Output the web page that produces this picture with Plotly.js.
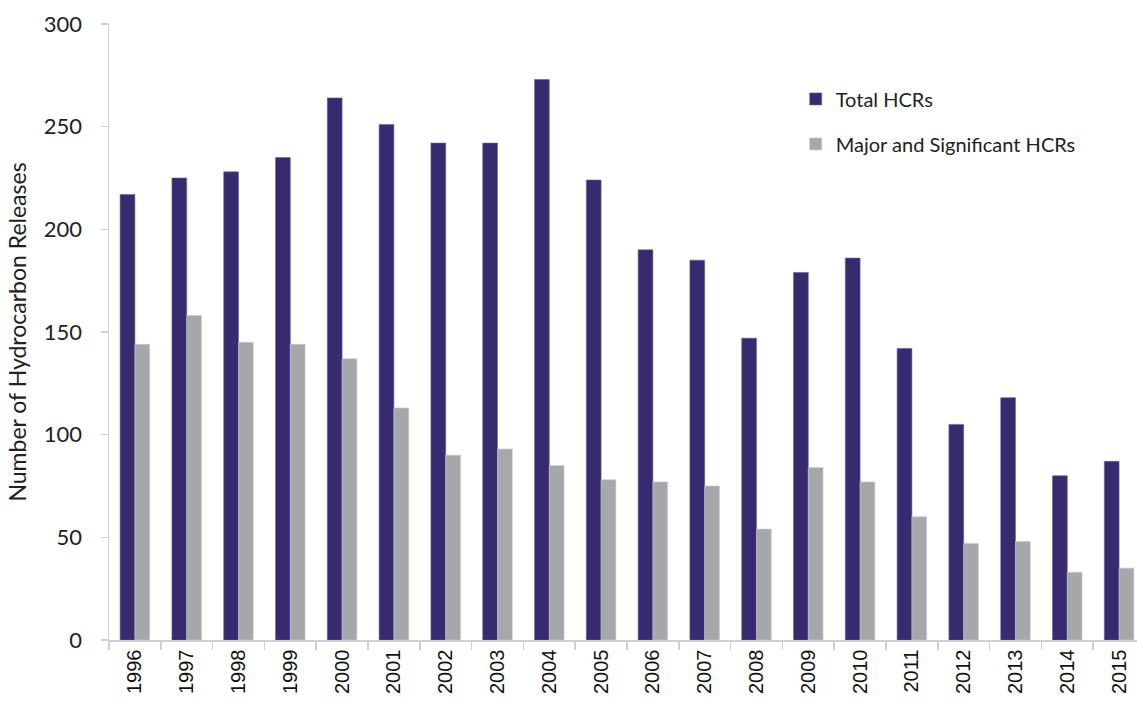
<!DOCTYPE html>
<html>
<head>
<meta charset="utf-8">
<script src="https://cdn.plot.ly/plotly-3.0.1.min.js"></script>
<style>
  html, body { margin: 0; padding: 0; background: #fff; }
  #chart { width: 1137px; height: 708px; }
</style>
</head>
<body>
<div id="chart"></div>
<script>
const years = ["1996","1997","1998","1999","2000","2001","2002","2003","2004","2005",
               "2006","2007","2008","2009","2010","2011","2012","2013","2014","2015"];
const totalHCRs = [217,225,228,235,264,251,242,242,273,224,190,185,147,179,186,142,105,118,80,87];
const majorSignificantHCRs = [144,158,145,144,137,113,90,93,85,78,77,75,54,84,77,60,47,48,33,35];
const yTicks = [0,50,100,150,200,250,300];

const numFont = "Lato, 'Noto Sans', sans-serif";

const traces = [
  {
    type: "bar", name: "Total HCRs", x: years, y: totalHCRs,
    marker: { color: "#372A6F", line: { color: "#6A5F98", width: 0.6 } },
    legendgroup: "a"
  },
  {
    type: "bar", name: "Major and Significant HCRs", x: years, y: majorSignificantHCRs,
    marker: { color: "#A6A7AB", line: { color: "#C8C9CC", width: 0.6 } },
    legendgroup: "b"
  }
];

const layout = {
  width: 1137, height: 708,
  margin: { l: 109, r: 0, t: 24, b: 68 },
  paper_bgcolor: "#ffffff", plot_bgcolor: "#ffffff",
  barmode: "group", bargap: 0.43, bargroupgap: 0,
  showlegend: true,
  legend: {
    x: 0.668, y: 0.91, xanchor: "left", yanchor: "top",
    font: { family: numFont, size: 20, color: "#222222" },
    tracegroupgap: 16, bgcolor: "rgba(0,0,0,0)"
  },
  xaxis: {
    type: "category",
    range: [-0.5, 19.346],
    showgrid: false, zeroline: false,
    showline: true, linecolor: "#D0D0D0", linewidth: 1.5,
    ticks: "outside", ticklen: 8, tickcolor: "#D0D0D0", tickwidth: 1.5,
    tickson: "boundaries",
    tickangle: -90,
    tickfont: { family: "'Liberation Sans', Arial, sans-serif", size: 20, color: "#111111" }
  },
  yaxis: {
    range: [0, 300],
    tickvals: yTicks,
    ticktext: yTicks.map(String),
    showgrid: false, zeroline: false,
    showline: true, linecolor: "#D0D0D0", linewidth: 1.5,
    ticks: "outside", ticklen: 7, tickcolor: "#D0D0D0", tickwidth: 1.5,
    ticklabelstandoff: 14,
    tickfont: { family: numFont, size: 22, color: "#222222" },
    title: { text: "Number of Hydrocarbon Releases", font: { family: numFont, size: 23, color: "#222222" }, standoff: 11 }
  }
};

Plotly.newPlot("chart", traces, layout, { displayModeBar: false, staticPlot: true });
</script>
</body>
</html>
